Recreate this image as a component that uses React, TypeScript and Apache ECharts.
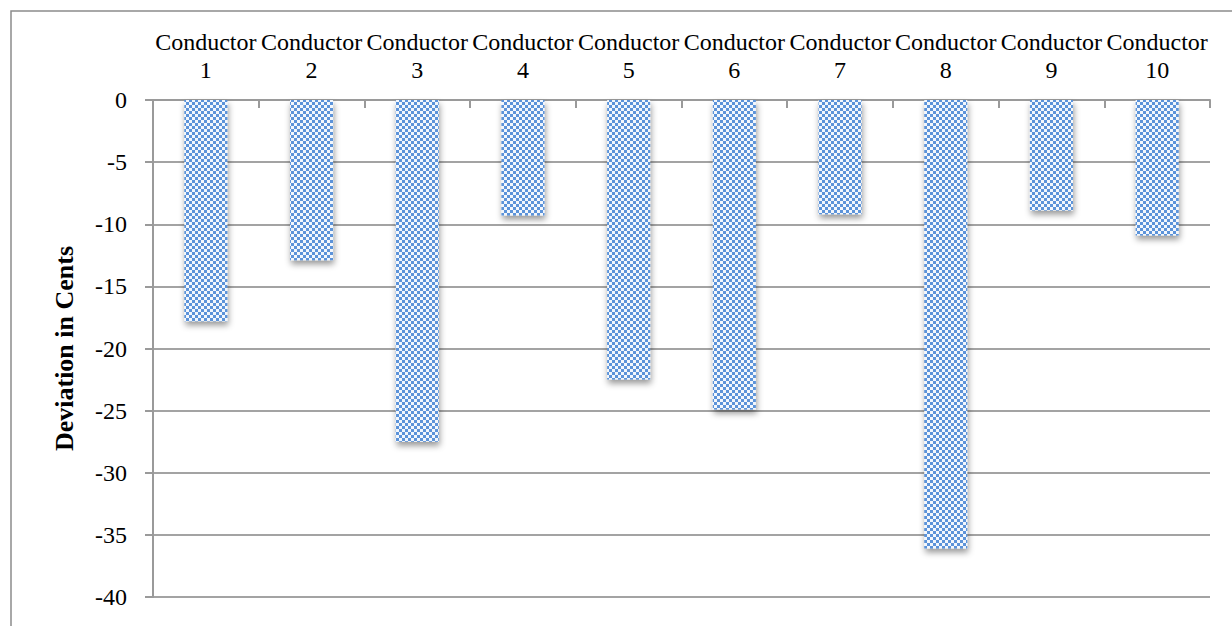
import React, { useEffect, useRef } from "react";
import * as echarts from "echarts";

const categories = [
  "Conductor\n1",
  "Conductor\n2",
  "Conductor\n3",
  "Conductor\n4",
  "Conductor\n5",
  "Conductor\n6",
  "Conductor\n7",
  "Conductor\n8",
  "Conductor\n9",
  "Conductor\n10",
];
const deviations = [-17.8, -12.9, -27.5, -9.3, -22.5, -24.9, -9.2, -36.1, -8.9, -10.9];
const yMin = -40;
const yMax = 0;
const yStep = 5;
const yAxisName = "Deviation in Cents";

function makePattern(): string {
  const c = document.createElement("canvas");
  c.width = 6;
  c.height = 6;
  const ctx = c.getContext("2d");
  if (ctx) {
    ctx.fillStyle = "#f3f7fc";
    ctx.fillRect(0, 0, 6, 6);
    ctx.fillStyle = "#5b93d9";
    ctx.fillRect(0, 0, 3, 3);
    ctx.fillRect(3, 3, 3, 3);
  }
  return c.toDataURL();
}

export default function App() {
  const ref = useRef<HTMLDivElement>(null);
  useEffect(() => {
    if (!ref.current) return;
    const chart = echarts.init(ref.current, null, { renderer: "svg" });
    const pattern = makePattern();
    const font = "'Liberation Serif', 'Times New Roman', serif";
    chart.setOption({
      animation: false,
      backgroundColor: "#ffffff",
      textStyle: { fontFamily: font },
      graphic: [
        {
          type: "rect",
          shape: { x: 11, y: 11, width: 1400, height: 800 },
          style: { fill: "none", stroke: "#8c8c8c", lineWidth: 1.5 },
          silent: true,
          z: 0,
        },
      ],
      grid: { left: 153, right: 22, top: 100, bottom: 29 },
      xAxis: {
        type: "category",
        position: "top",
        data: categories,
        axisLine: { show: true, lineStyle: { color: "#9a9a9a", width: 2 } },
        axisTick: { show: true, inside: true, length: 8, lineStyle: { color: "#9a9a9a", width: 2 } },
        axisLabel: {
          color: "#000",
          fontFamily: font,
          fontSize: 24,
          lineHeight: 28,
          margin: 16,
          interval: 0,
        },
      },
      yAxis: {
        type: "value",
        min: yMin,
        max: yMax,
        interval: yStep,
        name: yAxisName,
        nameLocation: "middle",
        nameGap: 76,
        nameTextStyle: { color: "#000", fontFamily: font, fontSize: 26, fontWeight: "bold" },
        axisLine: { show: true, lineStyle: { color: "#9a9a9a", width: 2 } },
        axisTick: { show: true, length: 8, lineStyle: { color: "#9a9a9a", width: 2 } },
        axisLabel: { color: "#000", fontFamily: font, fontSize: 24, margin: 26 },
        splitLine: { show: true, lineStyle: { color: "#a3a3a3", width: 2 } },
      },
      series: [
        {
          type: "bar",
          data: deviations,
          barWidth: 43,
          itemStyle: {
            color: { image: pattern, repeat: "repeat", imageWidth: 6, imageHeight: 6 },
            shadowColor: "rgba(0,0,0,0.4)",
            shadowBlur: 6,
            shadowOffsetX: 1,
            shadowOffsetY: 4,
          },
        },
      ],
    });
    return () => chart.dispose();
  }, []);
  return (
    <div
      ref={ref}
      style={{ position: "absolute", left: 0, top: 0, width: 1232, height: 626 }}
    />
  );
}
